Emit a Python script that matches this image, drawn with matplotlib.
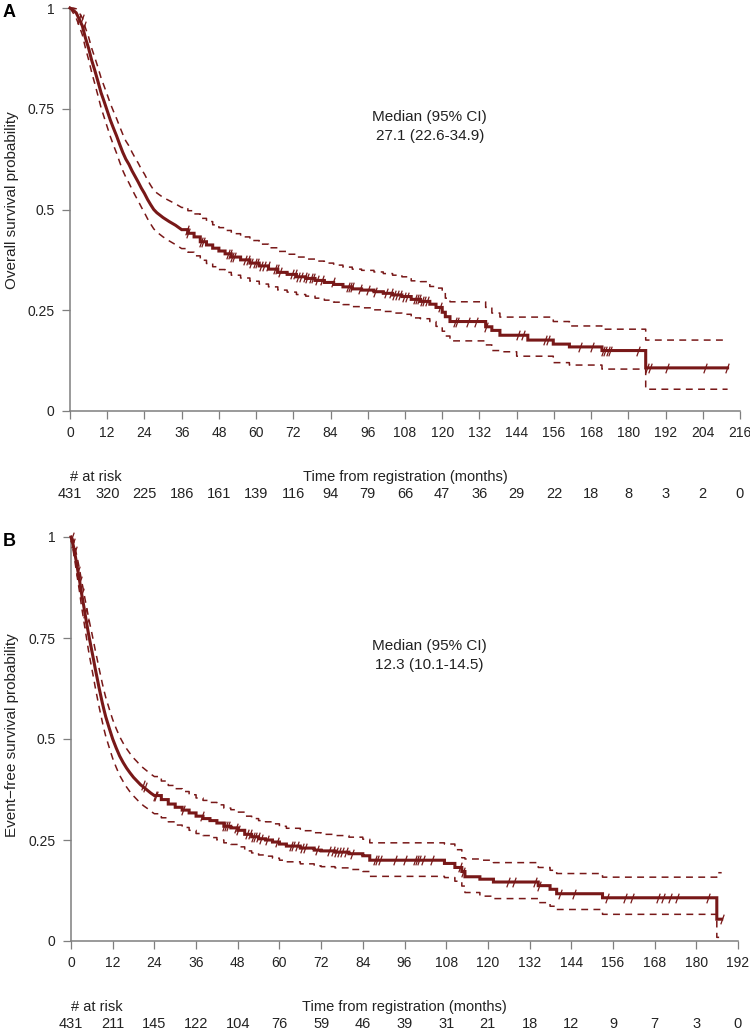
import numpy as np
import matplotlib
matplotlib.use('Agg')
import matplotlib.pyplot as plt
from matplotlib.path import Path

plt.rcParams['font.family'] = ['Liberation Sans', 'DejaVu Sans']

RED = '#781818'
GREY = '#7f7f7f'
TXT = '#222222'

# ---- panel A: overall survival ----
os_t = [0, 1, 2, 3, 4, 5, 6, 7, 8, 9, 10, 11, 12, 13, 14, 15, 16, 17, 18, 19, 20,
        21, 22, 23, 24, 25, 26, 27, 28, 30, 32, 34, 36, 38, 40, 42, 44, 46, 48, 50,
        52, 55, 58, 61, 64, 67, 70, 73, 76, 79, 82, 85, 88, 91, 94, 98, 101, 104,
        107, 110, 113, 116, 118, 120, 121, 122.5, 134, 136, 138.6, 144, 147.6,
        155.8, 161, 171.5, 185.6, 212]
os_s = [1.0, 0.995, 0.988, 0.972, 0.955, 0.925, 0.9, 0.87, 0.845, 0.818, 0.79, 0.768,
        0.745, 0.722, 0.702, 0.683, 0.662, 0.642, 0.625, 0.612, 0.596, 0.582, 0.568,
        0.553, 0.54, 0.525, 0.512, 0.5, 0.492, 0.48, 0.47, 0.461, 0.45, 0.441, 0.432,
        0.42, 0.412, 0.404, 0.397, 0.39, 0.382, 0.375, 0.367, 0.36, 0.352, 0.344,
        0.339, 0.333, 0.329, 0.324, 0.319, 0.314, 0.308, 0.303, 0.3, 0.296, 0.292,
        0.288, 0.284, 0.277, 0.272, 0.265, 0.257, 0.245, 0.234, 0.222, 0.209, 0.2,
        0.188, 0.188, 0.176, 0.166, 0.159, 0.15, 0.107, 0.107]
os_lo = [1.0, 0.988, 0.975, 0.955, 0.933, 0.9, 0.872, 0.84, 0.812, 0.783, 0.753, 0.729,
         0.705, 0.681, 0.66, 0.64, 0.618, 0.597, 0.58, 0.566, 0.55, 0.535, 0.521,
         0.506, 0.492, 0.477, 0.464, 0.452, 0.444, 0.432, 0.422, 0.413, 0.403, 0.394,
         0.385, 0.374, 0.366, 0.358, 0.351, 0.344, 0.337, 0.33, 0.322, 0.315, 0.308,
         0.3, 0.295, 0.289, 0.285, 0.28, 0.275, 0.27, 0.264, 0.259, 0.256, 0.251,
         0.247, 0.243, 0.24, 0.231, 0.229, 0.222, 0.21, 0.198, 0.186, 0.174, 0.164,
         0.15, 0.147, 0.136, 0.136, 0.12, 0.114, 0.104, 0.054, 0.054]
os_hi = [1.0, 1.0, 0.998, 0.988, 0.975, 0.95, 0.928, 0.9, 0.877, 0.853, 0.827, 0.806,
         0.785, 0.763, 0.744, 0.726, 0.706, 0.687, 0.67, 0.658, 0.642, 0.628, 0.615,
         0.6, 0.588, 0.573, 0.56, 0.548, 0.541, 0.53, 0.522, 0.514, 0.505, 0.497,
         0.489, 0.478, 0.47, 0.462, 0.455, 0.448, 0.44, 0.432, 0.423, 0.414, 0.405,
         0.396, 0.389, 0.382, 0.377, 0.372, 0.367, 0.362, 0.357, 0.352, 0.349, 0.345,
         0.341, 0.337, 0.333, 0.323, 0.321, 0.309, 0.305, 0.293, 0.28, 0.271, 0.257,
         0.243, 0.233, 0.233, 0.233, 0.222, 0.211, 0.203, 0.176, 0.176]
os_cens = [3.0, 3.8, 4.5, 37.6, 38.1, 42.3, 42.8, 51.0, 51.6, 52.2, 52.8, 56.4, 57.3,
           58.4, 59.5, 60.4, 61.5, 62.6, 63.8, 66.0, 66.8, 67.7, 71.5, 72.6, 73.5,
           74.5, 75.6, 76.5, 77.6, 78.5, 79.5, 81.1, 84.8, 89.6, 90.3, 90.9, 93.5,
           96.0, 98.3, 102.0, 103.5, 104.5, 105.5, 106.4, 107.7, 108.5, 111.2, 111.8,
           112.6, 113.4, 114.2, 115.0, 119.3, 124.0, 124.7, 128.4, 131.0, 134.0,
           144.5, 146.0, 153.0, 154.0, 164.4, 168.2, 171.8, 172.6, 173.3, 174.0,
           183.0, 186.0, 187.0, 192.4, 204.7, 211.9]
os_ticks = list(range(0, 217, 12))
os_risk = [431, 320, 225, 186, 161, 139, 116, 94, 79, 66, 47, 36, 29, 22, 18, 8, 3, 2, 0]

# ---- panel B: event-free survival ----
efs_t = [0, 0.5, 1, 1.5, 2, 2.5, 3, 3.5, 4, 4.5, 5, 5.5, 6, 6.5, 7, 7.5, 8, 8.5, 9,
         9.5, 10, 11, 12, 13, 14, 15, 16, 17, 18, 19, 20, 21, 22, 23, 24, 26, 28,
         30, 32, 34, 36, 38, 40, 42, 44, 46, 48, 50, 52, 54, 56, 58, 60, 62, 66, 70,
         72, 76, 80, 84, 86, 107.5, 110.5, 112.5, 113.4, 117.7, 121.6, 134.5, 137.9,
         139.8, 153, 185.9, 187.3]
efs_s = [1.0, 0.985, 0.965, 0.94, 0.915, 0.89, 0.862, 0.838, 0.812, 0.787, 0.762,
         0.74, 0.718, 0.696, 0.673, 0.652, 0.63, 0.61, 0.59, 0.572, 0.555, 0.527, 0.5,
         0.478, 0.458, 0.442, 0.428, 0.416, 0.405, 0.396, 0.387, 0.38, 0.373, 0.366,
         0.36, 0.35, 0.339, 0.331, 0.324, 0.317, 0.309, 0.303, 0.298, 0.292, 0.284,
         0.28, 0.274, 0.264, 0.258, 0.253, 0.25, 0.245, 0.24, 0.235, 0.23, 0.225,
         0.223, 0.22, 0.216, 0.211, 0.2, 0.192, 0.182, 0.172, 0.159, 0.153, 0.146,
         0.137, 0.128, 0.117, 0.107, 0.054, 0.054]
efs_lo = [1.0, 0.973, 0.948, 0.918, 0.89, 0.862, 0.83, 0.803, 0.775, 0.748, 0.721,
          0.697, 0.674, 0.651, 0.627, 0.605, 0.583, 0.563, 0.543, 0.524, 0.507, 0.479,
          0.452, 0.43, 0.41, 0.395, 0.381, 0.369, 0.359, 0.35, 0.341, 0.334, 0.328,
          0.321, 0.315, 0.305, 0.295, 0.287, 0.281, 0.274, 0.266, 0.261, 0.256, 0.25,
          0.243, 0.239, 0.233, 0.223, 0.218, 0.213, 0.21, 0.205, 0.2, 0.196, 0.191,
          0.186, 0.184, 0.181, 0.177, 0.172, 0.16, 0.157, 0.148, 0.136, 0.12, 0.111,
          0.105, 0.095, 0.086, 0.078, 0.066, 0.009, 0.009]
efs_hi = [1.0, 0.997, 0.982, 0.96, 0.94, 0.918, 0.893, 0.872, 0.848, 0.826, 0.803,
          0.782, 0.762, 0.741, 0.719, 0.699, 0.678, 0.658, 0.638, 0.62, 0.603, 0.575,
          0.548, 0.526, 0.506, 0.49, 0.476, 0.464, 0.453, 0.444, 0.434, 0.427, 0.42,
          0.413, 0.407, 0.396, 0.385, 0.377, 0.37, 0.362, 0.354, 0.348, 0.343, 0.337,
          0.329, 0.325, 0.319, 0.309, 0.303, 0.298, 0.295, 0.29, 0.284, 0.279, 0.273,
          0.268, 0.264, 0.261, 0.257, 0.252, 0.243, 0.24, 0.226, 0.206, 0.203, 0.2,
          0.194, 0.182, 0.175, 0.167, 0.158, 0.169, 0.169]
efs_cens = [0.2, 0.6, 1.2, 2.0, 2.6, 3.3, 4.0, 4.6, 20.8, 21.3, 24.1, 24.6, 32.3,
            37.6, 44.1, 44.7, 45.2, 47.5, 48.2, 50.7, 51.6, 52.3, 53.1, 53.8, 54.7,
            56.3, 59.2, 63.2, 64.0, 65.1, 66.5, 67.4, 70.7, 74.2, 75.3, 76.4, 77.2,
            78.1, 79.3, 80.8, 87.5, 88.2, 89.0, 93.3, 96.1, 99.0, 99.6, 100.2, 101.3,
            103.8, 112.0, 112.8, 125.9, 127.5, 133.6, 134.7, 140.8, 144.8, 154.2,
            159.5, 161.4, 169.1, 170.5, 172.4, 174.3, 183.5, 187.3]
efs_ticks = list(range(0, 193, 12))
efs_risk = [431, 211, 145, 122, 104, 76, 59, 46, 39, 31, 21, 18, 12, 9, 7, 3, 0]

W, H = 750, 1034
fig = plt.figure(figsize=(W / 100, H / 100), dpi=100)

slash = Path([(-0.35, -1.0), (0.35, 1.0)], [Path.MOVETO, Path.LINETO])


def km_xy(t, s, dense_until):
    # many tiny events early on look like a continuous line; later steps are drawn as steps
    xs, ys = [t[0]], [s[0]]
    for i in range(1, len(t)):
        if t[i] > dense_until:
            xs.append(t[i])
            ys.append(s[i - 1])
        xs.append(t[i])
        ys.append(s[i])
    return xs, ys


def km_panel(rect, t, s, lo, hi, cens, ticks, risk, ylab, letter, med, label_y,
             letter_y, dense_until):
    ax = fig.add_axes(rect)
    ax.plot(*km_xy(t, s, dense_until), color=RED, lw=2.2, clip_on=False, zorder=3,
            solid_joinstyle='miter')
    for band in (lo, hi):
        ax.plot(*km_xy(t, band, dense_until), color=RED, lw=1.1, dashes=(4.5, 3.5),
                clip_on=False, zorder=2)
    idx = np.searchsorted(t, cens, side='right') - 1
    ax.plot(cens, np.asarray(s)[idx], ls='none', marker=slash, ms=7, mew=0.9,
            color=RED, clip_on=False, zorder=4)

    ax.set_xlim(0, ticks[-1])
    ax.set_ylim(0, 1)
    ax.set_xticks(ticks)
    ax.set_yticks([0, 0.25, 0.5, 0.75, 1])
    ax.set_yticklabels(['0', '0.25', '0.5', '0.75', '1'])
    for side in ('top', 'right'):
        ax.spines[side].set_visible(False)
    for side in ('left', 'bottom'):
        ax.spines[side].set_color(GREY)
        ax.spines[side].set_linewidth(1.1)
    ax.tick_params(direction='out', length=6, width=0.9, color=GREY,
                   labelsize=10, labelcolor=TXT, pad=5)

    top = rect[1] + rect[3]
    fig.text(0.003, letter_y, letter, fontsize=13, fontweight='bold',
             va='center', ha='left', color='black')
    fig.text(0.016, label_y, ylab, rotation=90, va='center', ha='center',
             fontsize=11, color=TXT)
    fig.text(0.573, top - 0.1145, 'Median (95% CI)\n' + med, ha='center',
             va='center', fontsize=11, color=TXT, linespacing=1.4)

    # at-risk table
    tr = ax.get_xaxis_transform()
    ax.text(0, -0.163, '# at risk', transform=tr, ha='left', va='center',
            fontsize=10.5, color=TXT)
    ax.text(ticks[-1] / 2, -0.163, 'Time from registration (months)', transform=tr,
            ha='center', va='center', fontsize=10.5, color=TXT)
    for tk, n in zip(ticks, risk):
        ax.text(tk, -0.205, str(n), transform=tr, ha='center', va='center',
                fontsize=10.5, color=TXT)
    return ax


km_panel([70 / W, 1 - 411 / H, 670 / W, 403 / H], os_t, os_s, os_lo, os_hi, os_cens,
         os_ticks, os_risk, 'Overall survival probability', 'A', '27.1 (22.6-34.9)',
         1 - 200 / H, 1 - 12.5 / H, 36)
km_panel([71 / W, 1 - 941 / H, 667 / W, 404 / H], efs_t, efs_s, efs_lo, efs_hi,
         efs_cens, efs_ticks, efs_risk, 'Event\u2212free survival probability', 'B',
         '12.3 (10.1-14.5)', 1 - 735 / H, 1 - 541 / H, 24)

fig.savefig('out.png', dpi=100)
